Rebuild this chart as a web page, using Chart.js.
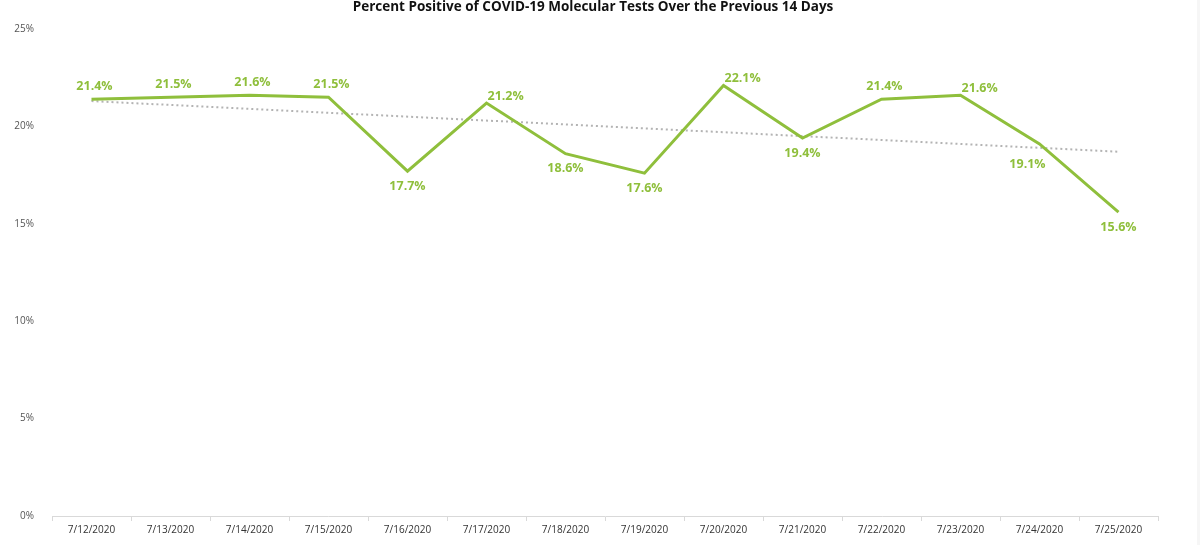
<!DOCTYPE html>
<html>
<head>
<meta charset="utf-8">
<script src="https://cdn.jsdelivr.net/npm/chart.js@4"></script>
<style>
  html, body { margin: 0; padding: 0; background: #f6f6f6; }
  #wrap { width: 1197px; height: 545px; background: #ffffff; }
</style>
</head>
<body>
<div id="wrap"><canvas id="posChart"></canvas></div>
<script>
const dates = ["7/12/2020", "7/13/2020", "7/14/2020", "7/15/2020", "7/16/2020", "7/17/2020", "7/18/2020",
  "7/19/2020", "7/20/2020", "7/21/2020", "7/22/2020", "7/23/2020", "7/24/2020", "7/25/2020"];
const percentPositive = [21.4, 21.5, 21.6, 21.5, 17.7, 21.2, 18.6, 17.6, 22.1, 19.4, 21.4, 21.6, 19.1, 15.6];
// trendline end values, gaps in between
const trend = [21.3, null, null, null, null, null, null, null, null, null, null, null, null, 18.7];
const yTicks = [0, 5, 10, 15, 20, 25];

// where each value label sits relative to its point
const labelPlace = ["above", "above", "above", "above", "below", "right", "below",
  "below", "right", "below", "above", "right", "belowLeft", "below"];

const green = "#8fbf3c";

const valueLabels = {
  id: "valueLabels",
  afterDatasetsDraw(chart) {
    const c = chart.ctx;
    const pts = chart.getDatasetMeta(0).data;
    c.save();
    c.font = "bold 12.5px 'Open Sans'";
    c.fillStyle = green;
    c.textBaseline = "middle";
    pts.forEach((p, i) => {
      const txt = percentPositive[i].toFixed(1) + "%";
      const place = labelPlace[i];
      if (place === "right") {
        c.textAlign = "left";
        c.fillText(txt, p.x + 1, p.y - 7);
      } else if (place === "below") {
        c.textAlign = "center";
        c.fillText(txt, p.x, p.y + 15);
      } else if (place === "belowLeft") {
        c.textAlign = "center";
        c.fillText(txt, p.x - 12, p.y + 21);
      } else {
        c.textAlign = "center";
        c.fillText(txt, p.x + 3, p.y - 13);
      }
    });
    c.restore();
  }
};

const titleText = {
  id: "titleText",
  afterDraw(chart) {
    const c = chart.ctx;
    c.save();
    c.font = "bold 13.5px 'Open Sans'";
    c.fillStyle = "#111111";
    c.textAlign = "center";
    c.textBaseline = "middle";
    c.fillText("Percent Positive of COVID-19 Molecular Tests Over the Previous 14 Days", 593, 7);
    c.restore();
  }
};

const ctx = document.getElementById("posChart").getContext("2d");

new Chart(ctx, {
  type: "line",
  data: {
    labels: dates,
    datasets: [
      {
        label: "Percent Positive",
        data: percentPositive,
        borderColor: green,
        borderWidth: 3,
        pointRadius: 0,
        tension: 0,
        fill: false
      },
      {
        label: "Trend",
        data: trend,
        borderColor: "#b3b3b3",
        borderWidth: 2,
        borderDash: [2, 3],
        pointRadius: 0,
        spanGaps: true,
        fill: false
      }
    ]
  },
  options: {
    responsive: true,
    maintainAspectRatio: false,
    animation: false,
    layout: { padding: { top: 29, right: 39, bottom: 0, left: 0 } },
    plugins: {
      legend: { display: false },
      title: { display: false },
      tooltip: { enabled: false }
    },
    scales: {
      x: {
        offset: true,
        grid: {
          offset: true,
          drawOnChartArea: false,
          color: "#d9d9d9",
          tickLength: 5
        },
        border: { color: "#d9d9d9" },
        ticks: {
          color: "#333333",
          font: { family: "'Open Sans'", size: 10 },
          padding: 3,
          maxRotation: 0,
          autoSkip: false
        },
        afterFit(scale) { scale.height = 29; }
      },
      y: {
        min: 0,
        max: 25,
        afterBuildTicks(scale) { scale.ticks = yTicks.map(v => ({ value: v })); },
        grid: { display: false },
        border: { display: false },
        ticks: {
          color: "#555555",
          font: { family: "'Open Sans'", size: 10 },
          padding: 10,
          callback: v => v + "%"
        },
        afterFit(scale) { scale.width = 52; }
      }
    }
  },
  plugins: [valueLabels, titleText]
});
</script>
</body>
</html>
